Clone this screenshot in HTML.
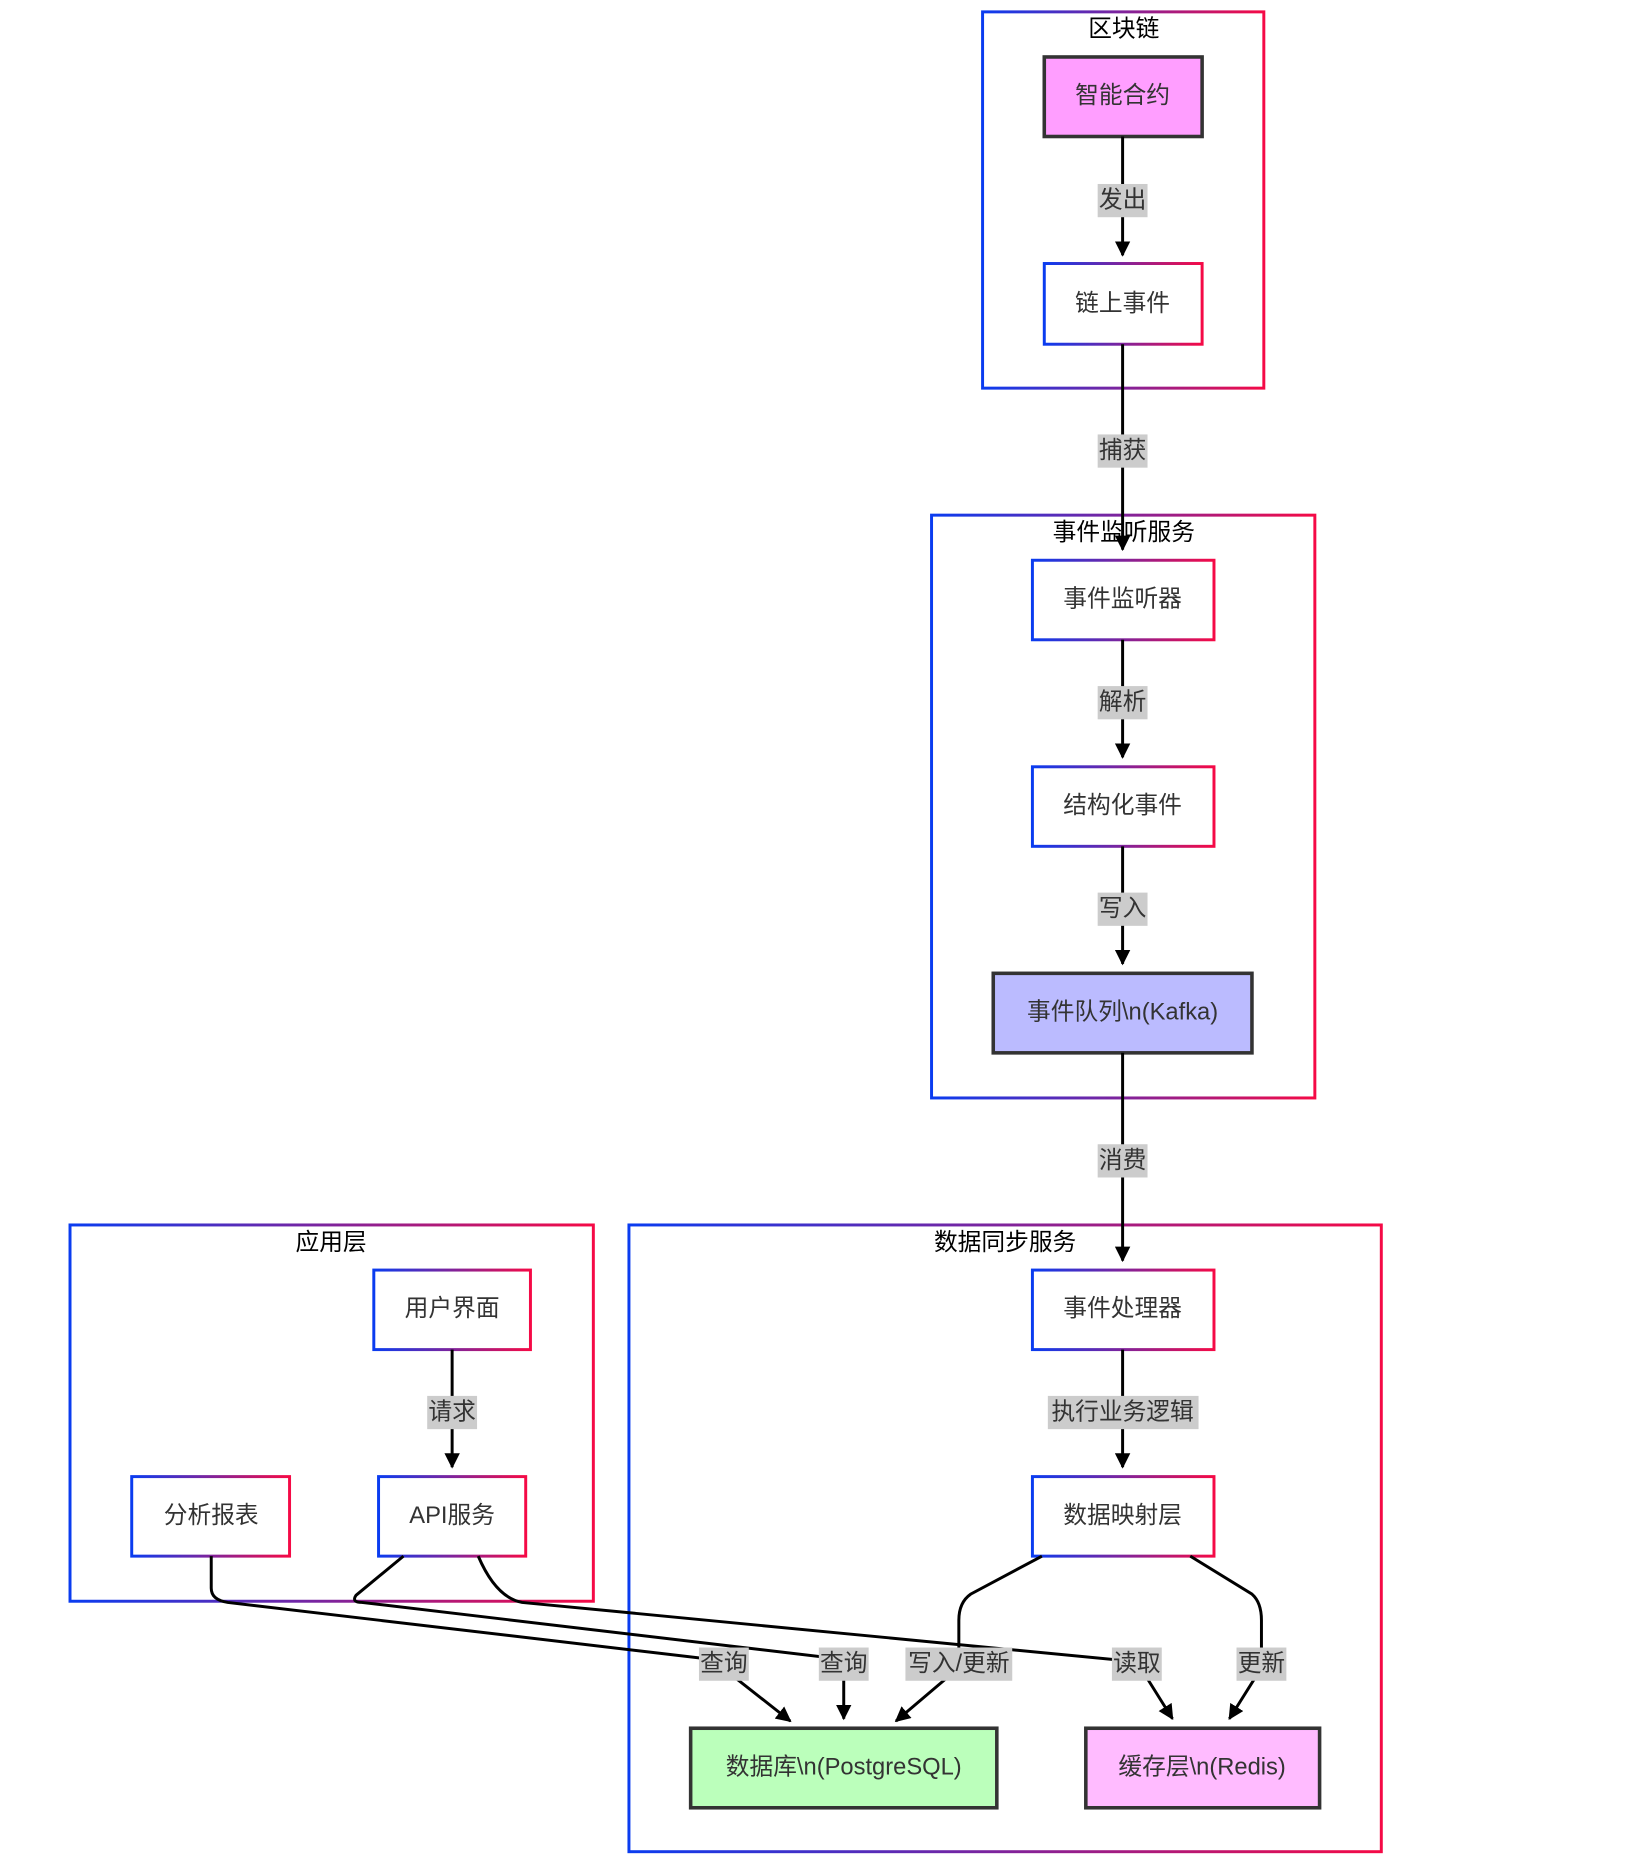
<!DOCTYPE html>
<html><head><meta charset="utf-8"><style>html,body{margin:0;padding:0;background:#fff}svg{display:block}</style></head>
<body>
<svg width="1640" height="1860" viewBox="0 0 1382 1567" preserveAspectRatio="none" xmlns="http://www.w3.org/2000/svg" font-family="'Liberation Sans','Noto Sans CJK SC',sans-serif">
<defs>
<linearGradient id="g" x1="0" y1="0" x2="1" y2="0"><stop offset="0" stop-color="#0a3cf0"/><stop offset="1" stop-color="#f50a46"/></linearGradient>
<marker id="m" viewBox="0 0 10 10" refX="9" refY="5" markerWidth="13" markerHeight="13" orient="auto" markerUnits="userSpaceOnUse"><path d="M0,0L10,5L0,10z" fill="#000"/></marker>
</defs>
<g fill="none" stroke="url(#g)" stroke-width="2.5">
<rect x="828" y="10" width="237" height="317"/>
<rect x="785" y="434" width="323" height="491"/>
<rect x="530" y="1032" width="634" height="528"/>
<rect x="59" y="1032" width="441" height="317"/>
<rect x="880" y="222" width="133" height="68"/>
<rect x="870" y="472" width="153" height="67"/>
<rect x="870" y="646" width="153" height="67"/>
<rect x="870" y="1070" width="153" height="67"/>
<rect x="870" y="1244" width="153" height="67"/>
<rect x="315" y="1070" width="132" height="67"/>
<rect x="111" y="1244" width="133" height="67"/>
<rect x="319" y="1244" width="124" height="67"/>
</g>
<g stroke="#333" stroke-width="3">
<rect x="880" y="48" width="133" height="67" fill="#ff9eff"/>
<rect x="837" y="820" width="218" height="67" fill="#bbbbff"/>
<rect x="582" y="1456" width="258" height="67" fill="#bbffbb"/>
<rect x="915" y="1456" width="197" height="67" fill="#ffbbff"/>
</g>
<g fill="none" stroke="#000" stroke-width="2.5" marker-end="url(#m)">
<path d="M946,115V215"/>
<path d="M946,290V463"/>
<path d="M946,539V638"/>
<path d="M946,713V812"/>
<path d="M946,887V1062"/>
<path d="M946,1137V1236"/>
<path d="M381,1137V1236"/>
<path d="M178,1311V1338Q178,1348 192,1350L600,1398L666,1450"/>
<path d="M340,1311L300,1344Q296,1350 305,1350L711,1398V1448"/>
<path d="M403,1311Q418,1346 440,1350L958,1400L988,1448"/>
<path d="M878,1311L818,1343Q808,1350 808,1365V1405L755,1450"/>
<path d="M1003,1311L1055,1343Q1063,1350 1063,1365V1405L1036,1448"/>
</g>
<g fill="#ccc">
<rect x="925" y="155" width="42" height="28"/>
<rect x="925" y="366" width="42" height="28"/>
<rect x="925" y="578" width="42" height="28"/>
<rect x="925" y="752" width="42" height="28"/>
<rect x="925" y="964" width="42" height="28"/>
<rect x="883" y="1176" width="127" height="28"/>
<rect x="360" y="1176" width="42" height="28"/>
<rect x="589" y="1388" width="42" height="28"/>
<rect x="690" y="1388" width="42" height="28"/>
<rect x="763" y="1388" width="90" height="28"/>
<rect x="937" y="1388" width="42" height="28"/>
<rect x="1042" y="1388" width="42" height="28"/>
</g>
<g font-size="20" fill="#333" text-anchor="middle" dominant-baseline="central">
<text x="946" y="169">发出</text><text x="946" y="380">捕获</text><text x="946" y="592">解析</text>
<text x="946" y="766">写入</text><text x="946" y="978">消费</text><text x="946" y="1190">执行业务逻辑</text>
<text x="381" y="1190">请求</text><text x="610" y="1402">查询</text><text x="711" y="1402">查询</text>
<text x="808" y="1402">写入/更新</text><text x="958" y="1402">读取</text><text x="1063" y="1402">更新</text>
<text x="946" y="81">智能合约</text><text x="946" y="256">链上事件</text>
<text x="946" y="505">事件监听器</text><text x="946" y="679">结构化事件</text>
<text x="946" y="853">事件队列\n(Kafka)</text>
<text x="946" y="1103">事件处理器</text><text x="946" y="1277">数据映射层</text>
<text x="381" y="1103">用户界面</text><text x="178" y="1277">分析报表</text><text x="381" y="1277">API服务</text>
<text x="711" y="1489">数据库\n(PostgreSQL)</text><text x="1013" y="1489">缓存层\n(Redis)</text>
</g>
<g font-size="20" fill="#000" text-anchor="middle" dominant-baseline="central">
<text x="947" y="25">区块链</text><text x="947" y="449">事件监听服务</text>
<text x="847" y="1047">数据同步服务</text><text x="279" y="1047">应用层</text>
</g>
</svg>
</body></html>
